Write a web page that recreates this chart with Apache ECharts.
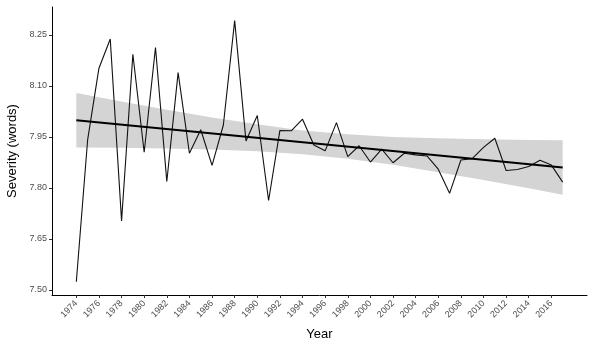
<!DOCTYPE html>
<html>
<head>
<meta charset="utf-8">
<script src="https://cdn.jsdelivr.net/npm/echarts@6/dist/echarts.min.js"></script>
<style>html,body{margin:0;padding:0;background:#fff;}#c{width:595px;height:353px;}</style>
</head>
<body>
<div id="c"></div>
<script>
const years = [1974,1975,1976,1977,1978,1979,1980,1981,1982,1983,1984,1985,1986,1987,1988,1989,1990,1991,1992,1993,1994,1995,1996,1997,1998,1999,2000,2001,2002,2003,2004,2005,2006,2007,2008,2009,2010,2011,2012,2013,2014,2015,2016,2017];
const severity = [7.524,7.941,8.152,8.238,7.703,8.193,7.905,8.213,7.819,8.139,7.902,7.971,7.866,7.985,8.292,7.938,8.013,7.763,7.969,7.968,8.002,7.926,7.909,7.992,7.892,7.924,7.876,7.914,7.874,7.902,7.897,7.894,7.855,7.784,7.882,7.886,7.919,7.946,7.851,7.854,7.863,7.881,7.867,7.817];
const fitYears = [1974, 2017];
const fitValues = [7.999, 7.860];
const bandYears = [1974,1978,1982,1986,1990,1994,1998,2002,2006,2010,2014,2017];
const bandUpper = [8.079,8.054,8.030,8.007,7.987,7.969,7.958,7.950,7.946,7.943,7.941,7.940];
const bandLower = [7.919,7.918,7.916,7.913,7.908,7.899,7.886,7.868,7.846,7.823,7.799,7.780];
const xTickLabels = [1974,1976,1978,1980,1982,1984,1986,1988,1990,1992,1994,1996,1998,2000,2002,2004,2006,2008,2010,2012,2014,2016];
const yTickLabels = [7.50,7.65,7.80,7.95,8.10,8.25];

const chart = echarts.init(document.getElementById('c'), null, {renderer:'canvas'});
const font = 'Liberation Sans, Arial, sans-serif';
chart.setOption({
  animation: false,
  backgroundColor: '#fff',
  grid: {left: 52, right: 8, top: 7, bottom: 58, containLabel: false, outerBoundsMode: 'none'},
  xAxis: {
    type: 'value', min: 1971.85, max: 2019.15,
    name: 'Year', nameLocation: 'middle', nameGap: 33,
    nameTextStyle: {color: '#000', fontSize: 13, fontFamily: font},
    axisLine: {show: true, lineStyle: {color: '#000', width: 1}},
    axisTick: {show: true, length: 3, lineStyle: {color: '#333'}, customValues: xTickLabels},
    axisLabel: {show: true, rotate: 45, color: '#4d4d4d', fontSize: 9, margin: 7,
      fontFamily: font, customValues: xTickLabels, formatter: v => String(v)},
    splitLine: {show: false}
  },
  yAxis: {
    type: 'value', min: 7.485, max: 8.332,
    name: 'Severity (words)', nameLocation: 'middle', nameGap: 31,
    nameTextStyle: {color: '#000', fontSize: 13, fontFamily: font},
    axisLine: {show: true, lineStyle: {color: '#000', width: 1}},
    axisTick: {show: true, length: 3, lineStyle: {color: '#333'}, customValues: yTickLabels},
    axisLabel: {show: true, color: '#4d4d4d', fontSize: 9, margin: 5,
      fontFamily: font, customValues: yTickLabels, formatter: v => Number(v).toFixed(2)},
    splitLine: {show: false}
  },
  series: [
    {
      type: 'custom', silent: true, z: 1,
      data: [0],
      renderItem: function (params, api) {
        const pts = [];
        for (let i = 0; i < bandYears.length; i++) pts.push(api.coord([bandYears[i], bandUpper[i]]));
        for (let i = bandYears.length - 1; i >= 0; i--) pts.push(api.coord([bandYears[i], bandLower[i]]));
        return {type: 'polygon', shape: {points: pts}, style: {fill: '#d4d4d4', stroke: null}};
      }
    },
    {
      type: 'line', symbol: 'none',
      data: years.map((y, i) => [y, severity[i]]),
      lineStyle: {color: '#111', width: 1.1}, z: 3
    },
    {
      type: 'line', symbol: 'none',
      data: fitYears.map((y, i) => [y, fitValues[i]]),
      lineStyle: {color: '#000', width: 2}, z: 4
    }
  ]
});
</script>
</body>
</html>
